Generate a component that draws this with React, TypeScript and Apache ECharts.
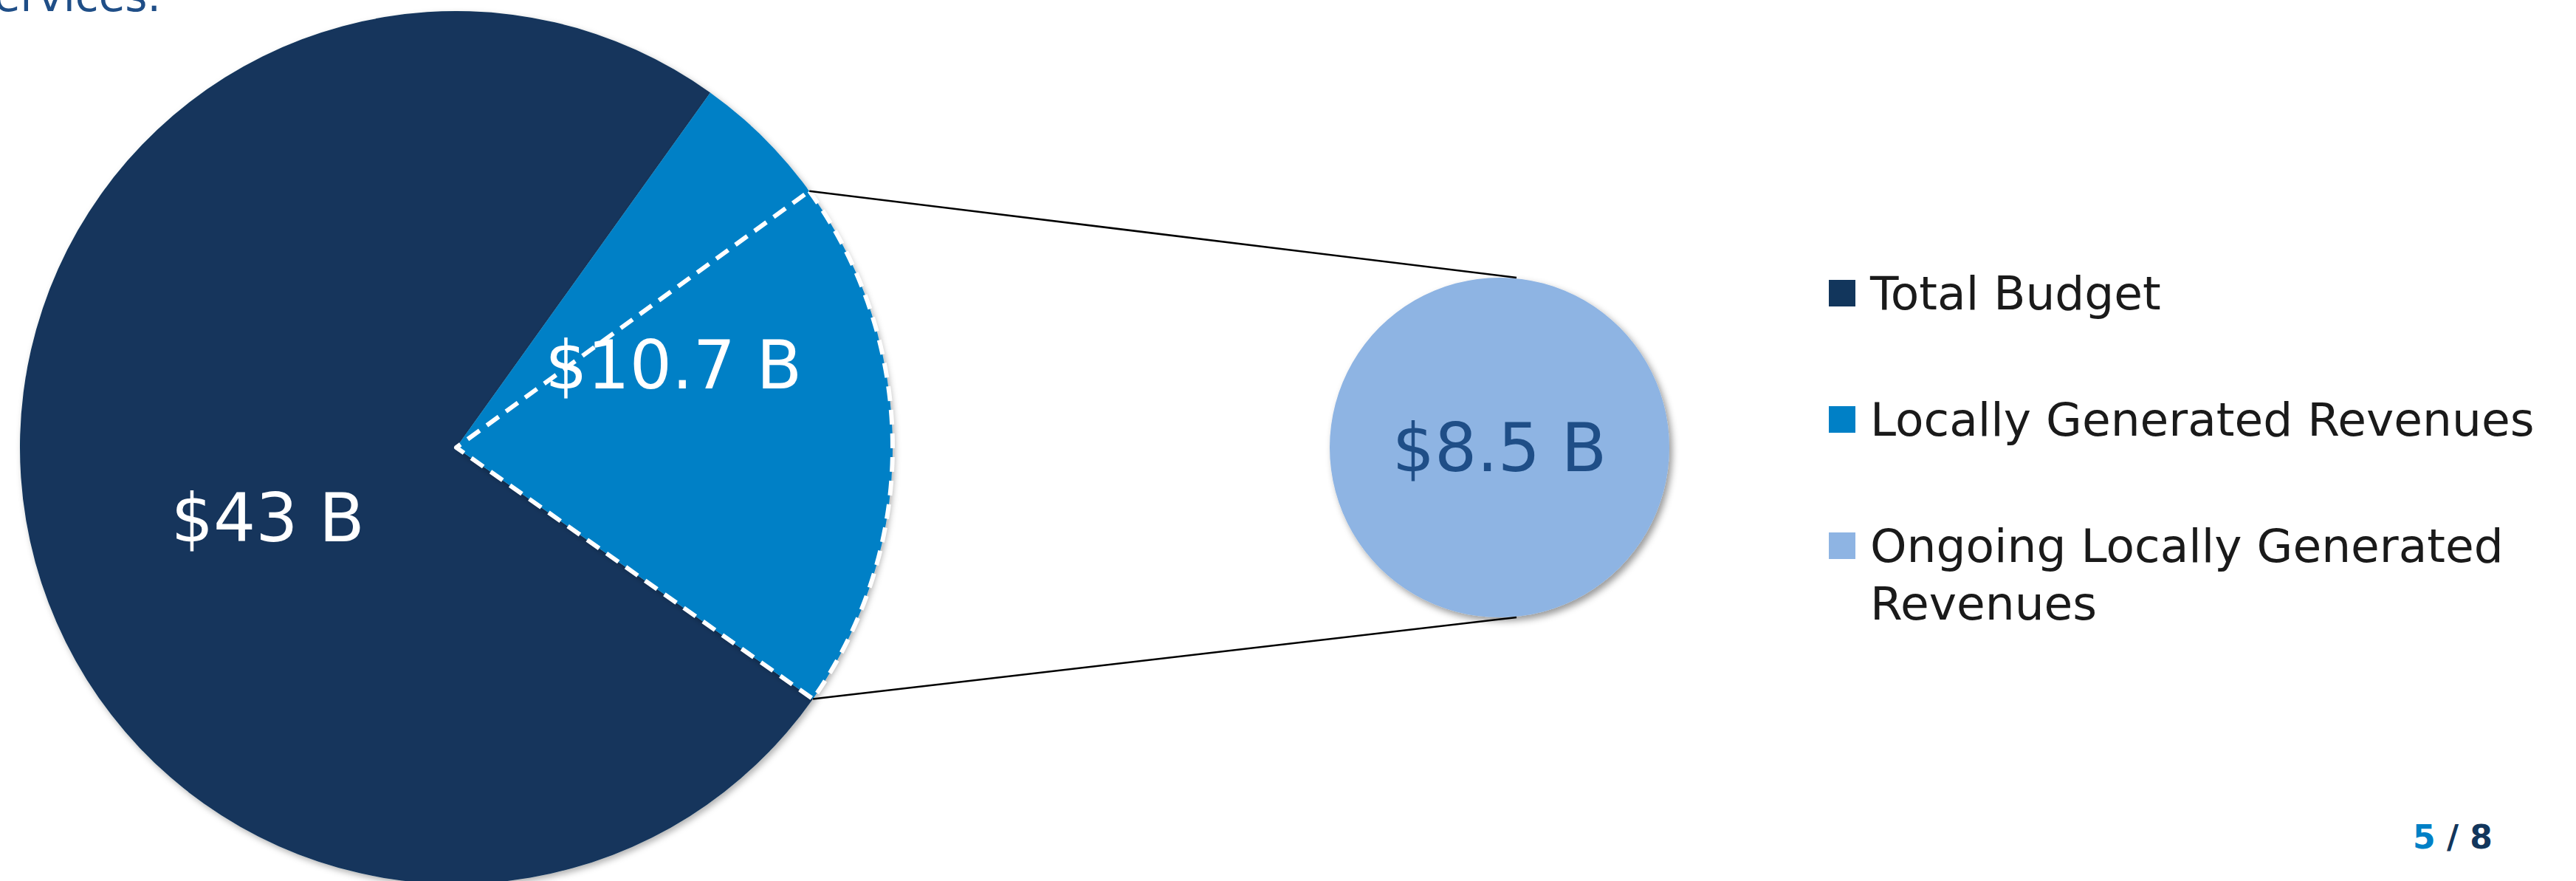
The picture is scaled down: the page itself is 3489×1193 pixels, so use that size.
import React, { useEffect, useRef } from 'react';
import * as echarts from 'echarts';

// ---- data ----
const categories = ['Total Budget', 'Locally Generated Revenues', 'Ongoing Locally Generated Revenues'];
const amounts = [43, 10.7, 8.5]; // billions of dollars
const unitSuffix = ' B';
const pageCurrent = '5';
const pageTotal = '8';
const introTail = 'services.';

// ---- style ----
const W = 3489;
const H = 1193;
const NAVY = '#12365C';
const BLUE = '#0080C6';
const LIGHT = '#8EB4E3';
const LABEL_BLUE = '#1F4E87';
const FONT = '"DejaVu Sans", "Noto Sans", sans-serif';

const fmt = (v: number) => '$' + v + unitSuffix;

export default function App() {
  const ref = useRef<HTMLDivElement>(null);

  useEffect(() => {
    if (!ref.current) return;
    const chart = echarts.init(ref.current, null, { renderer: 'svg', width: W, height: H });

    const [total, local, ongoing] = amounts;
    const mainCenter = [618, 606];
    const mainR = 591;
    const zoomCenter = [2031, 606];
    const zoomR = 230;
    const localStart = 54.4;
    const deg = (v: number) => (v / total) * 360;
    const mainStart = localStart + deg(total - local);
    const wedgeTop = localStart - deg(local - ongoing);
    const wedgeBottom = localStart - deg(local);
    const pt = (a: number) => [
      mainCenter[0] + mainR * Math.cos((a * Math.PI) / 180),
      mainCenter[1] - mainR * Math.sin((a * Math.PI) / 180),
    ];
    const pTop = pt(wedgeTop);
    const pBot = pt(wedgeBottom);
    const zTop = [zoomCenter[0] + 0.1 * zoomR, zoomCenter[1] - zoomR];
    const zBot = [zoomCenter[0] + 0.1 * zoomR, zoomCenter[1] + zoomR];

    const legendTops = [358, 529, 622];
    // the long name wraps; a leading blank line keeps the icon level with its first line
    const wrapName = (name: string) =>
      name === categories[2] ? '\n' + name.replace(' Revenues', '\nRevenues') : name;

    const option: any = {
      animation: false,
      backgroundColor: '#ffffff',
      legend: [0, 1, 2].map((i) => ({
        data: [categories[i]],
        orient: 'vertical',
        left: 2477,
        top: legendTops[i],
        padding: 0,
        itemWidth: 36,
        itemHeight: 36,
        icon: 'rect',
        selectedMode: false,
        formatter: wrapName,
        itemStyle: { borderWidth: 0, shadowBlur: 0, shadowColor: 'rgba(0,0,0,0)' },
        textStyle: {
          fontSize: 63,
          fontFamily: FONT,
          color: '#1a1a1a',
          lineHeight: 78,
          padding: [0, 0, 0, 15],
        },
      })),
      series: [
        {
          type: 'pie',
          center: mainCenter,
          radius: mainR,
          startAngle: mainStart,
          clockwise: true,
          silent: true,
          avoidLabelOverlap: false,
          emphasis: { disabled: true },
          itemStyle: {
            borderWidth: 0,
            shadowBlur: 8,
            shadowOffsetX: 3,
            shadowOffsetY: 4,
            shadowColor: 'rgba(0,0,0,0.3)',
          },
          label: {
            show: true,
            position: 'inside',
            formatter: (p: any) => fmt(amounts[p.dataIndex]),
            color: '#ffffff',
            fontSize: 90,
            fontFamily: FONT,
          },
          labelLine: { show: false },
          labelLayout: (p: any) => (p.dataIndex === 0 ? { dx: 39, dy: 46 } : { dx: 0, dy: -62 }),
          data: [
            { name: categories[0], value: total - local, itemStyle: { color: NAVY } },
            { name: categories[1], value: local, itemStyle: { color: BLUE } },
          ],
          z: 2,
        },
        {
          type: 'pie',
          center: zoomCenter,
          radius: zoomR,
          silent: true,
          emphasis: { disabled: true },
          itemStyle: {
            borderWidth: 0,
            shadowBlur: 10,
            shadowOffsetX: 4,
            shadowOffsetY: 5,
            shadowColor: 'rgba(0,0,0,0.4)',
          },
          label: {
            show: true,
            position: 'center',
            formatter: () => fmt(ongoing),
            color: LABEL_BLUE,
            fontSize: 90,
            fontFamily: FONT,
          },
          labelLine: { show: false },
          data: [{ name: categories[2], value: ongoing, itemStyle: { color: LIGHT } }],
          z: 2,
        },
        {
          type: 'pie',
          center: mainCenter,
          radius: mainR,
          startAngle: wedgeTop,
          clockwise: true,
          silent: true,
          emphasis: { disabled: true },
          label: { show: false },
          labelLine: { show: false },
          data: [
            {
              name: 'ongoing-outline',
              value: ongoing,
              itemStyle: {
                color: 'rgba(0,0,0,0)',
                borderColor: '#ffffff',
                borderWidth: 6,
                borderType: [20, 12],
              },
            },
            {
              name: 'rest-outline',
              value: total - ongoing,
              itemStyle: { color: 'rgba(0,0,0,0)', borderWidth: 0 },
            },
          ],
          z: 3,
        },
      ],
      graphic: [
        {
          type: 'line',
          z: 10,
          shape: { x1: pTop[0], y1: pTop[1], x2: zTop[0], y2: zTop[1] },
          style: { stroke: '#000000', lineWidth: 2.5 },
        },
        {
          type: 'line',
          z: 10,
          shape: { x1: pBot[0], y1: pBot[1], x2: zBot[0], y2: zBot[1] },
          style: { stroke: '#000000', lineWidth: 2.5 },
        },
        {
          type: 'text',
          x: 218,
          y: -5,
          style: {
            text: introTail,
            align: 'right',
            verticalAlign: 'middle',
            fontSize: 58,
            fontFamily: FONT,
            fill: LABEL_BLUE,
          },
        },
        {
          type: 'text',
          x: 3268,
          y: 1133,
          style: {
            text: '{a|' + pageCurrent + '} {b|/ ' + pageTotal + '}',
            verticalAlign: 'middle',
            align: 'left',
            fontSize: 44,
            fontFamily: FONT,
            fontWeight: 'bold',
            rich: {
              a: { fill: BLUE, color: BLUE, fontSize: 44, fontWeight: 'bold', fontFamily: FONT },
              b: { fill: NAVY, color: NAVY, fontSize: 44, fontWeight: 'bold', fontFamily: FONT },
            },
          },
        },
      ],
    };

    chart.setOption(option);
    return () => chart.dispose();
  }, []);

  return (
    <div
      ref={ref}
      style={{ position: 'fixed', left: 0, top: 0, width: W, height: H, background: '#ffffff' }}
    />
  );
}
